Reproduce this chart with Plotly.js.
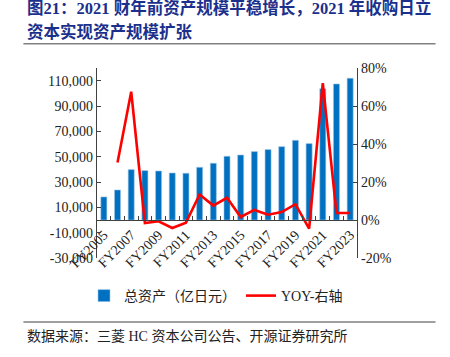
<!DOCTYPE html>
<html>
<head>
<meta charset="utf-8">
<script src="https://cdn.plot.ly/plotly-3.0.1.min.js"></script>
<style>html,body{margin:0;padding:0;background:#fff;}#chart{width:450px;height:357px;}</style>
</head>
<body>
<div id="chart"></div>
<script>
var categories = ["FY2005","FY2006","FY2007","FY2008","FY2009","FY2010","FY2011","FY2012","FY2013","FY2014","FY2015","FY2016","FY2017","FY2018","FY2019","FY2020","FY2021","FY2022","FY2023"];
var totalAssets = [18200,23700,39800,39000,38700,37100,36900,41600,44800,50300,51300,54000,55600,57900,62900,60300,103700,107400,111900];
var yoyCategories = ["FY2006","FY2007","FY2008","FY2009","FY2010","FY2011","FY2012","FY2013","FY2014","FY2015","FY2016","FY2017","FY2018","FY2019","FY2020","FY2021","FY2022","FY2023"];
var yoy = [30.2,67.5,-1.6,-0.7,-4.2,-1.4,13.4,7.6,11.7,1.6,5.3,2.8,4.2,8.3,-4.5,72,3.7,3.7];
var leftTicks = [-30000,-10000,10000,30000,50000,70000,90000,110000];
var rightTicks = [-20,0,20,40,60,80];
var seriesNames = ["总资产（亿日元）","YOY-右轴"];
var titleLines = ["图21：2021 财年前资产规模平稳增长，2021 年收购日立","资本实现资产规模扩张"];
var sourceText = "数据来源：三菱 HC 资本公司公告、开源证券研究所";

function fmt(v){ var s = Math.abs(v).toString().replace(/\B(?=(\d{3})+(?!\d))/g, ","); return (v<0?"-":"")+s; }

var serif = "Liberation Serif, Times New Roman, Noto Sans CJK SC, serif";
var axisColor = "#404040";

var traces = [
  {type:"bar", x:categories, y:totalAssets, name:seriesNames[0], yaxis:"y",
   marker:{color:"#0070c0", line:{color:"#9dc3e6", width:0.6}}},
  {type:"scatter", mode:"lines", x:yoyCategories, y:yoy, name:seriesNames[1], yaxis:"y2",
   line:{color:"#ff0000", width:2.6}}
];

var layout = {
  width:450, height:357,
  margin:{l:97, r:93, t:68, b:99},
  paper_bgcolor:"#fff", plot_bgcolor:"#fff",
  bargap:0.56,
  showlegend:true,
  legend:{orientation:"h", x:-0.05, y:-0.2, xanchor:"left", yanchor:"middle",
    font:{family:serif, size:14, color:"#222"}, itemwidth:30, tracegroupgap:0},
  font:{family:serif, size:14, color:"#222"},
  xaxis:{type:"category", categoryorder:"array", categoryarray:categories,
    anchor:"free", position:0.2,
    tickvals:categories, ticktext:categories.map(function(c,i){return i%2===0?c:"";}),
    tickson:"boundaries", ticks:"inside", ticklen:4, tickcolor:axisColor,
    showline:true, linecolor:axisColor, linewidth:1.2, showgrid:false, zeroline:false,
    tickangle:-45, tickfont:{family:serif, size:14, color:"#222"}},
  yaxis:{range:[-30000,120000], tickvals:leftTicks, ticktext:leftTicks.map(fmt),
    ticks:"inside", ticklen:4, tickcolor:axisColor, showline:true, linecolor:axisColor, linewidth:1.2,
    showgrid:false, zeroline:false, tickfont:{family:serif, size:14, color:"#222"}},
  yaxis2:{range:[-20,80], overlaying:"y", side:"right", tickvals:rightTicks,
    ticktext:rightTicks.map(function(v){return (v<0?"-":"")+Math.abs(v)+"%";}),
    ticks:"inside", ticklen:4, tickcolor:axisColor, showline:true, linecolor:axisColor, linewidth:1.2,
    showgrid:false, zeroline:false, tickfont:{family:serif, size:14, color:"#222"}},
  annotations:[
    {xref:"paper", yref:"paper", x:-0.277, y:1.318, xanchor:"left", yanchor:"middle", showarrow:false,
     text:"<b>"+titleLines[0]+"</b>", font:{family:"Liberation Serif, Noto Sans CJK SC", size:16.5, color:"#1b2f8c"}},
    {xref:"paper", yref:"paper", x:-0.277, y:1.19, xanchor:"left", yanchor:"middle", showarrow:false,
     text:"<b>"+titleLines[1]+"</b>", font:{family:"Liberation Serif, Noto Sans CJK SC", size:16.5, color:"#1b2f8c"}},
    {xref:"paper", yref:"paper", x:-0.277, y:-0.415, xanchor:"left", yanchor:"middle", showarrow:false,
     text:sourceText, font:{family:"Liberation Serif, Noto Sans CJK SC", size:14, color:"#222"}}
  ],
  shapes:[
    {type:"line", xref:"paper", yref:"paper", x0:-0.283, x1:1.302, y0:1.128, y1:1.128, line:{color:"#808080", width:1.5}},
    {type:"line", xref:"paper", yref:"paper", x0:-0.283, x1:1.302, y0:-0.337, y1:-0.337, line:{color:"#808080", width:1.5}}
  ]
};

Plotly.newPlot("chart", traces, layout, {displayModeBar:false, staticPlot:true});
</script>
</body>
</html>
